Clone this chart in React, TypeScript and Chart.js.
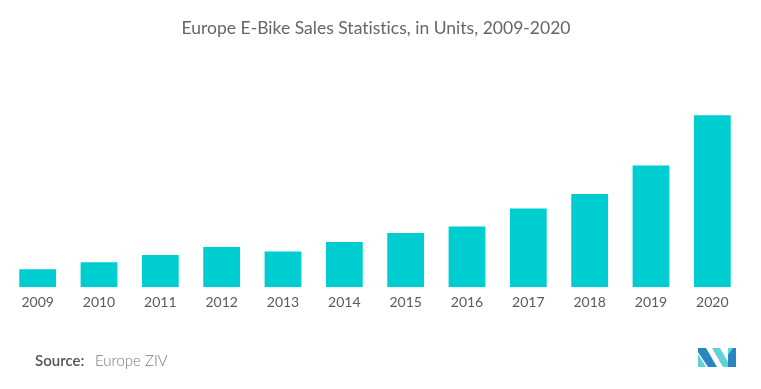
import React, { useEffect, useRef } from "react";
import { Chart, registerables } from "chart.js";

Chart.register(...registerables);

const TITLE = "Europe E-Bike Sales Statistics, in Units, 2009-2020";
const SOURCE_LABEL = "Source:";
const SOURCE_TEXT = "Europe ZIV";
const years = ["2009", "2010", "2011", "2012", "2013", "2014", "2015", "2016", "2017", "2018", "2019", "2020"];
const sales = [472000, 656000, 840000, 1050000, 932000, 1181000, 1417000, 1588000, 2060000, 2440000, 3188000, 4500000];
const Y_MAX = 6000000;

const decorPlugin = {
  id: "decor",
  afterDraw(chart: any) {
    const ctx = chart.ctx as any;
    ctx.save();
    // title
    ctx.font = "17.5px Lato";
    ctx.letterSpacing = "0.01px";
    ctx.fillStyle = "#666666";
    ctx.textAlign = "center";
    ctx.textBaseline = "alphabetic";
    ctx.fillText(TITLE, 376, 34);
    ctx.letterSpacing = "0px";
    // source
    ctx.textAlign = "left";
    ctx.font = "600 15px Lato";
    ctx.fillStyle = "#555555";
    ctx.fillText(SOURCE_LABEL, 35, 366);
    ctx.font = "300 15px Lato";
    ctx.fillStyle = "#7a7a7a";
    ctx.fillText(SOURCE_TEXT, 95, 366);
    // logo
    const ox = 698, oy = 348;
    const poly = (pts: number[][], color: string) => {
      ctx.beginPath();
      ctx.moveTo(ox + pts[0][0], oy + pts[0][1]);
      for (let i = 1; i < pts.length; i++) ctx.lineTo(ox + pts[i][0], oy + pts[i][1]);
      ctx.closePath();
      ctx.fillStyle = color;
      ctx.fill();
    };
    poly([[0, 0], [8, 0], [19, 19], [10, 19], [0, 4]], "#2a86c0");
    poly([[0, 6], [0, 19], [8, 19]], "#5fd3d6");
    poly([[14, 0], [22, 0], [30, 14], [30, 19], [25, 19]], "#5fd3d6");
    poly([[30, 0], [38, 0], [38, 19], [30, 19]], "#2a86c0");
    poly([[30, 0], [35, 0], [30, 7]], "#5fd3d6");
    ctx.restore();
  },
};

export default function App() {
  const ref = useRef<HTMLCanvasElement>(null);
  useEffect(() => {
    if (!ref.current) return;
    const chart = new Chart(ref.current, {
      type: "bar",
      data: {
        labels: years,
        datasets: [
          {
            data: sales,
            backgroundColor: "#00cdd0",
            borderWidth: 0,
            barPercentage: 0.6,
            categoryPercentage: 1,
          },
        ],
      },
      options: {
        responsive: false,
        animation: false,
        layout: { padding: { left: 7, right: 18, top: 58, bottom: 71 } },
        plugins: { legend: { display: false }, title: { display: false }, tooltip: { enabled: false } },
        scales: {
          x: {
            grid: { display: false, drawTicks: false },
            border: { display: false },
            ticks: { color: "#5a5a5a", font: { family: "Lato", size: 14 }, padding: 7, maxRotation: 0 },
          },
          y: { display: false, min: 0, max: Y_MAX },
        },
      },
      plugins: [decorPlugin],
    });
    return () => chart.destroy();
  }, []);
  return (
    <div style={{ position: "absolute", left: 0, top: 0, width: 761, height: 389, background: "#fff" }}>
      <canvas ref={ref} width={761} height={389} />
    </div>
  );
}
